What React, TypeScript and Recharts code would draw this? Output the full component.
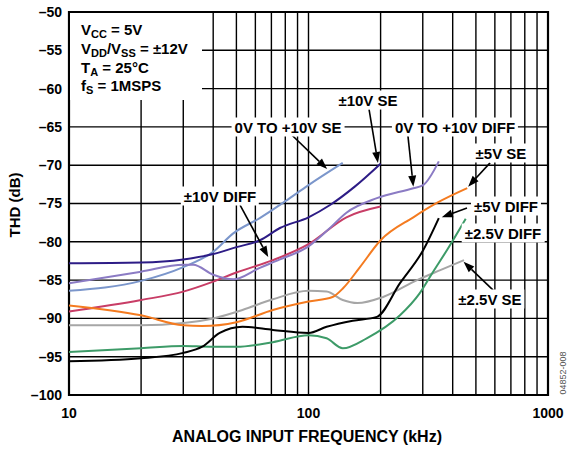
import React from "react";
import {
  LineChart,
  Line,
  XAxis,
  YAxis,
  CartesianGrid,
  ReferenceLine,
  ReferenceArea,
} from "recharts";

// frequency (kHz), THD (dB)
const SE_10V: [number, number][] = [
  [10, -82.8], [20, -82.7], [30, -82.3], [40, -81.6], [50, -80.7], [62.7, -79.8],
  [76, -78.2], [100, -76.8], [123, -75.2], [156, -72.8], [200, -69.8],
];
const SE_0_10V: [number, number][] = [
  [10, -86.4], [20, -85.1], [30, -83.3], [40, -81.3], [48.5, -78.9], [62.6, -76.9],
  [80, -74.7], [100, -72.6], [139, -69.7],
];
const DIFF_0_10V: [number, number][] = [
  [10, -85.4], [20, -83.9], [30, -83.0], [33, -83.0], [40, -84.3], [48.5, -84.9],
  [62.6, -83.4], [76, -82.3], [100, -80.6], [120, -78.5], [144, -76.2], [193, -74.3],
  [274, -73.0], [301, -72.6], [350, -69.5],
];
const DIFF_10V: [number, number][] = [
  [10, -89.1], [20, -87.6], [30, -86.5], [40, -85.2], [50, -84.0], [71, -82.4],
  [100, -80.3], [144, -76.8], [200, -75.4],
];
const SE_5V: [number, number][] = [
  [10, -88.3], [20, -89.6], [30, -90.9], [36, -91.0], [50, -90.5], [71, -88.9],
  [100, -87.8], [126, -87.2], [140, -86.0], [164, -83.3], [200, -79.8], [274, -76.8],
  [345, -74.9], [460, -73.0],
];
const DIFF_5V: [number, number][] = [
  [10, -95.6], [20, -95.2], [30, -94.5], [36, -93.7], [42.6, -91.9], [53, -91.1],
  [71, -91.5], [100, -91.9], [119, -91.1], [153, -90.3], [193, -89.8], [241, -85.4],
  [301, -81.1], [350, -76.9],
];
const DIFF_2V5: [number, number][] = [
  [10, -94.4], [20, -93.9], [30, -93.6], [38.8, -93.7], [50, -93.7], [71, -93.1],
  [100, -92.2], [119, -92.6], [139, -93.9], [175, -92.6], [241, -89.6], [290, -86.8],
  [330, -84.0], [380, -81.0], [453, -77.0],
];
const SE_2V5: [number, number][] = [
  [10, -90.9], [20, -90.9], [30, -90.6], [40, -90.0], [53, -88.9], [71, -87.5],
  [100, -86.4], [119, -86.5], [139, -87.6], [160, -88.0], [205, -87.2], [284, -85.0],
  [355, -83.7], [446, -82.4],
];

const X_TICKS = [10, 20, 30, 40, 50, 60, 70, 80, 90, 100, 200, 300, 400, 500, 600, 700, 800, 900, 1000];
const X_LABELED = [10, 100, 1000];
const Y_TICKS = [-100, -95, -90, -85, -80, -75, -70, -65, -60, -55, -50];

const SERIES = [
  { name: "±10V DIFF", data: DIFF_10V, color: "#c83d66" },
  { name: "±2.5V SE", data: SE_2V5, color: "#a6a6a6" },
  { name: "±5V SE", data: SE_5V, color: "#f47b20" },
  { name: "±2.5V DIFF", data: DIFF_2V5, color: "#3d9b68" },
  { name: "±5V DIFF", data: DIFF_5V, color: "#000000" },
  { name: "0V TO +10V SE", data: SE_0_10V, color: "#7b96cb" },
  { name: "0V TO +10V DIFF", data: DIFF_0_10V, color: "#8b7bc4" },
  { name: "±10V SE", data: SE_10V, color: "#2d1c86" },
];

// arrow from label to curve: [fromF, fromDb, toF, toDb]
const ARROWS: [number, number, number, number][] = [
  [83.5, -65.8, 119.6, -70.5],
  [179, -62.7, 195, -69.7],
  [260, -66.1, 274, -72.8],
  [573, -69.7, 464, -72.8],
  [459, -75.6, 360, -76.8],
  [590, -86.3, 444, -82.6],
  [51.8, -75.2, 67.9, -82.0],
];

const LABELS: { text: string; cx: number; cy: number }[] = [
  { text: "0V TO +10V SE", cx: 288, cy: 127 },
  { text: "±10V SE", cx: 368, cy: 100 },
  { text: "0V TO +10V DIFF", cx: 455, cy: 127 },
  { text: "±5V SE", cx: 501, cy: 153 },
  { text: "±5V DIFF", cx: 506, cy: 206 },
  { text: "±2.5V DIFF", cx: 503, cy: 233 },
  { text: "±2.5V SE", cx: 490, cy: 299 },
  { text: "±10V DIFF", cx: 220, cy: 196 },
];

const FONT = '"Liberation Sans", Arial, Helvetica, sans-serif';

const toRows = (pts: [number, number][]) => pts.map(([f, db]) => ({ f, db }));

const fmtY = (v: number) => (v < 0 ? `\u2013${Math.abs(v)}` : String(v));
const fmtX = (v: number) => (X_LABELED.includes(v) ? String(v) : "");

const ArrowShape = (props: any) => {
  const { x1, y1, x2, y2 } = props;
  const dx = x2 - x1;
  const dy = y2 - y1;
  const len = Math.hypot(dx, dy) || 1;
  const ux = dx / len;
  const uy = dy / len;
  const hl = 11;
  const hw = 4;
  const bx = x2 - ux * hl;
  const by = y2 - uy * hl;
  return (
    <g>
      <line x1={x1} y1={y1} x2={bx} y2={by} stroke="#000" strokeWidth={1.6} />
      <polygon
        points={`${x2},${y2} ${bx - uy * hw},${by + ux * hw} ${bx + uy * hw},${by - ux * hw}`}
        fill="#000"
      />
    </g>
  );
};

const subStyle: React.CSSProperties = {
  fontSize: 11,
  position: "relative",
  top: 3,
  verticalAlign: "baseline",
};

const condLines = [
  <>V<span style={subStyle}>CC</span> = 5V</>,
  <>V<span style={subStyle}>DD</span>/V<span style={subStyle}>SS</span> = ±12V</>,
  <>T<span style={subStyle}>A</span> = 25°C</>,
  <>f<span style={subStyle}>S</span> = 1MSPS</>,
];

export default function App() {
  return (
    <div
      style={{
        position: "absolute",
        left: 0,
        top: 0,
        width: 568,
        height: 455,
        background: "#fff",
        fontFamily: FONT,
      }}
    >
      <LineChart
        width={568}
        height={455}
        margin={{ top: 12, right: 20, left: 0, bottom: 10 }}
      >
        <CartesianGrid stroke="#000" strokeWidth={1.4} />
        <XAxis
          dataKey="f"
          type="number"
          scale="log"
          domain={[10, 1000]}
          allowDataOverflow
          ticks={X_TICKS}
          interval={0}
          tickFormatter={fmtX}
          tickLine={false}
          axisLine={false}
          tickSize={0}
          tickMargin={13}
          height={50}
          tick={{ fill: "#000", fontSize: 14, fontWeight: 700, fontFamily: FONT }}
        />
        <YAxis
          type="number"
          domain={[-100, -50]}
          ticks={Y_TICKS}
          interval={0}
          tickFormatter={fmtY}
          tickLine={false}
          axisLine={false}
          tickSize={0}
          tickMargin={7}
          width={69}
          tick={{ fill: "#000", fontSize: 14, fontWeight: 700, fontFamily: FONT }}
        />
        {SERIES.map((s) => (
          <Line
            key={s.name}
            data={toRows(s.data)}
            dataKey="db"
            type="monotone"
            stroke={s.color}
            strokeWidth={2}
            dot={false}
            activeDot={false}
            isAnimationActive={false}
          />
        ))}
        <ReferenceArea
          x1={10}
          x2={1000}
          y1={-100}
          y2={-50}
          fill="none"
          stroke="#000"
          strokeWidth={2.2}
          fillOpacity={0}
        />
        {ARROWS.map(([f1, d1, f2, d2], i) => (
          <ReferenceLine
            key={i}
            segment={[
              { x: f1, y: d1 },
              { x: f2, y: d2 },
            ]}
            ifOverflow="visible"
            shape={ArrowShape}
          />
        ))}
      </LineChart>

      {/* condition box */}
      <div
        style={{
          position: "absolute",
          left: 70,
          top: 13,
          width: 132,
          height: 87,
          background: "#fff",
        }}
      />
      {condLines.map((ln, i) => (
        <div
          key={i}
          style={{
            position: "absolute",
            left: 81,
            top: 21.2 + i * 18.7,
            height: 18.7,
            lineHeight: "18.7px",
            fontSize: 15,
            fontWeight: 700,
            whiteSpace: "nowrap",
            color: "#000",
          }}
        >
          {ln}
        </div>
      ))}

      {LABELS.map((l) => (
        <div
          key={l.text}
          style={{
            position: "absolute",
            left: l.cx,
            top: l.cy,
            transform: "translate(-50%, -50%)",
            background: "#fff",
            padding: "0 3px",
            lineHeight: "19px",
            fontSize: 15,
            fontWeight: 700,
            whiteSpace: "nowrap",
            color: "#000",
          }}
        >
          {l.text}
        </div>
      ))}

      <div
        style={{
          position: "absolute",
          left: 307,
          top: 437,
          transform: "translate(-50%, -50%)",
          fontSize: 16,
          fontWeight: 700,
          whiteSpace: "nowrap",
          lineHeight: "20px",
        }}
      >
        ANALOG INPUT FREQUENCY (kHz)
      </div>
      <div
        style={{
          position: "absolute",
          left: 15,
          top: 205,
          transform: "translate(-50%, -50%) rotate(-90deg)",
          fontSize: 15,
          fontWeight: 700,
          whiteSpace: "nowrap",
          lineHeight: "20px",
        }}
      >
        THD (dB)
      </div>
      <div
        style={{
          position: "absolute",
          left: 563,
          top: 373,
          transform: "translate(-50%, -50%) rotate(-90deg)",
          fontSize: 9,
          color: "#555",
          whiteSpace: "nowrap",
          lineHeight: "10px",
        }}
      >
        04852-008
      </div>
    </div>
  );
}
